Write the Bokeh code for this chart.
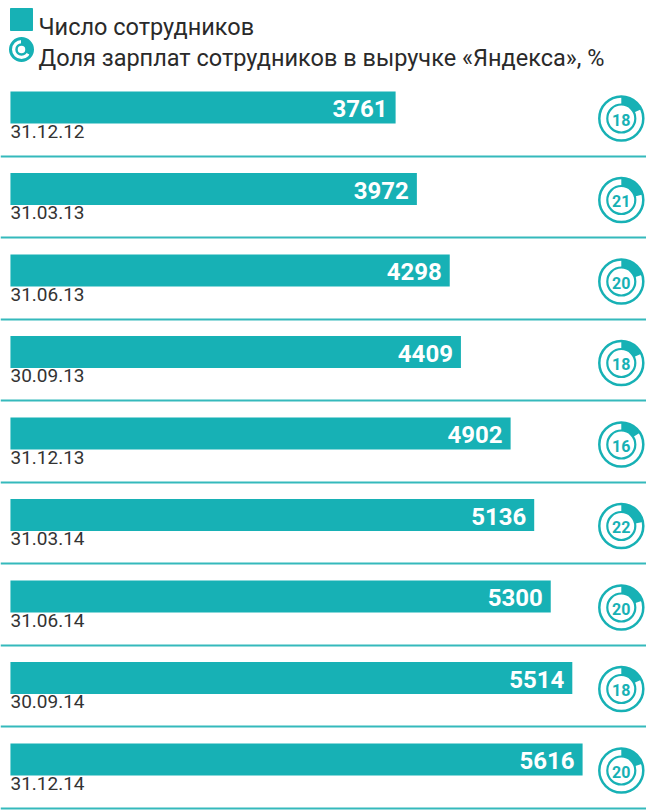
import math
from bokeh.plotting import figure
from bokeh.layouts import column
from bokeh.models import Range1d, ColumnDataSource
from bokeh.core.properties import value
from bokeh.embed import file_html
from bokeh.resources import INLINE

# ---- data ----
dates = ["31.12.12", "31.03.13", "31.06.13", "30.09.13", "31.12.13",
         "31.03.14", "31.06.14", "30.09.14", "31.12.14"]
employees = [3761, 3972, 4298, 4409, 4902, 5136, 5300, 5514, 5616]
salary_share = [18, 21, 20, 18, 16, 22, 20, 18, 20]
legend_labels = ["Число сотрудников", "Доля зарплат сотрудников в выручке «Яндекса», %"]

# ---- styles ----
TEAL = "#17b1b5"
LINE_TEAL = "#35b9bc"
DARK = "#2a2a2a"
FONT = value("Roboto")
BAR_START = -60
CIRCLE_X = 6000
W = 646
LEG_H = 83

def clean(fig):
    fig.axis.visible = False
    fig.grid.visible = False
    fig.outline_line_color = None
    fig.min_border = 0
    fig.background_fill_color = "white"
    fig.border_fill_color = "white"

# ---- legend figure ----
lf = figure(width=W, height=LEG_H, x_range=Range1d(0, W), y_range=Range1d(LEG_H, 0),
            output_backend="svg", toolbar_location=None, min_border=0)
clean(lf)
lf.rect(x=[21], y=[19], width=22, height=22, color=TEAL)
lf.scatter(x=[21], y=[49], marker="circle", size=22, fill_color=None,
           line_color=TEAL, line_width=3)
lf.annular_wedge(x=[21], y=[49], inner_radius=4, outer_radius=10,
                 inner_radius_units="screen", outer_radius_units="screen",
                 start_angle=math.pi / 2, end_angle=-math.pi / 6,
                 direction="clock", color=TEAL)
lf.scatter(x=[21], y=[49], marker="circle", size=10, fill_color="white",
           line_color=TEAL, line_width=2.5)
lf.text(x=[38, 38], y=[26, 57], text=legend_labels, text_font=FONT,
        text_font_size="23.5px", text_color=DARK, text_baseline="alphabetic",
        text_align="left")

# ---- main figure ----
n = len(dates)
rows = list(range(n))
src = ColumnDataSource(dict(
    y=rows,
    left=[BAR_START] * n,
    right=employees,
    label=[str(v) for v in employees],
    date=dates,
    date_y=[r + 0.21 for r in rows],
    cx=[CIRCLE_X] * n,
    cy=[r + 0.135 for r in rows],
    pct=[str(v) for v in salary_share],
    start=[math.pi / 2] * n,
    end=[math.pi / 2 - v / 100 * 2 * math.pi for v in salary_share],
    sep=[r + 0.601 for r in rows],
))

MAIN_H = 811 - LEG_H
p = figure(width=W, height=MAIN_H, x_range=Range1d(-158.7, 6250),
           y_range=Range1d((MAIN_H - 24) / 81.5, -24 / 81.5),
           output_backend="svg", toolbar_location=None, min_border=0)
clean(p)

p.hspan(y="sep", source=src, line_color=LINE_TEAL, line_width=2)
p.hbar(y="y", left="left", right="right", height=0.393, source=src,
       fill_color=TEAL, line_color=None)
p.text(x="right", y="y", text="label", source=src, x_offset=-8, y_offset=1,
       text_align="right", text_baseline="middle", text_color="white",
       text_font=FONT, text_font_style="bold", text_font_size="24px")
p.text(x="left", y="date_y", text="date", source=src, text_align="left",
       text_baseline="top", text_color="#333333", text_font=FONT,
       text_font_size="19px")

# donut indicators
p.scatter(x="cx", y="cy", source=src, marker="circle", size=44,
          fill_color="white", line_color=TEAL, line_width=2.5)
p.annular_wedge(x="cx", y="cy", source=src, inner_radius=14, outer_radius=22,
                inner_radius_units="screen", outer_radius_units="screen",
                start_angle="start", end_angle="end", direction="clock",
                fill_color=TEAL, line_color=None)
p.scatter(x="cx", y="cy", source=src, marker="circle", size=28,
          fill_color="white", line_color=TEAL, line_width=2.2)
p.text(x="cx", y="cy", text="pct", source=src, text_align="center",
       text_baseline="middle", text_color=TEAL, text_font=FONT,
       text_font_style="bold", text_font_size="16px", y_offset=1)

layout = column(lf, p, spacing=0)
open("out.html", "w").write(file_html(layout, INLINE))
